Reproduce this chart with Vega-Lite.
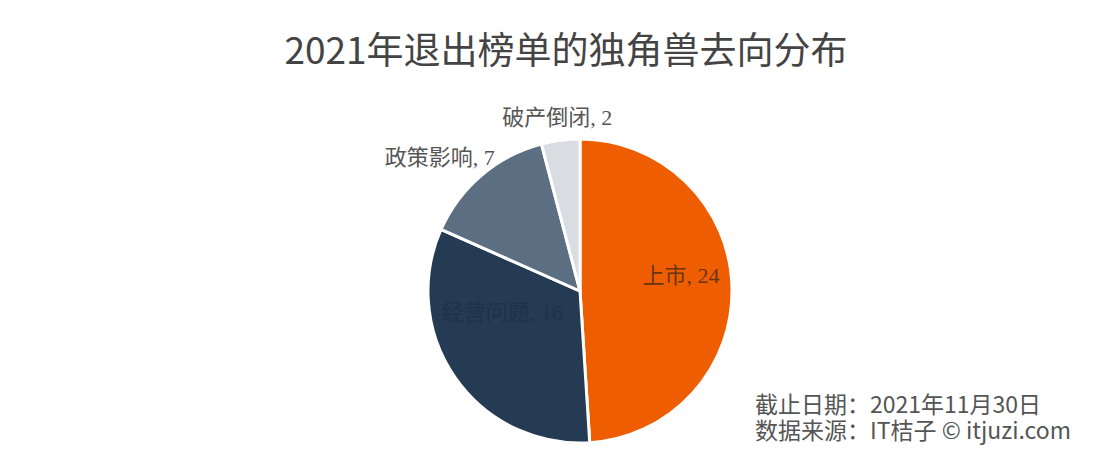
{
  "$schema": "https://vega.github.io/schema/vega-lite/v6.json",
  "background": "white",
  "padding": {"top": 34, "left": 0, "right": 0, "bottom": 0},
  "title": {
    "text": "2021年退出榜单的独角兽去向分布",
    "font": "Noto Sans CJK SC",
    "fontSize": 37,
    "fontWeight": "normal",
    "color": "#444444",
    "anchor": "middle",
    "dx": -14,
    "dy": 4,
    "offset": 10
  },
  "data": {
    "values": [
      {"category": "上市", "value": 24, "label": "上市, 24"},
      {"category": "经营问题", "value": 16, "label": "经营问题, 16"},
      {"category": "政策影响", "value": 7, "label": "政策影响, 7"},
      {"category": "破产倒闭", "value": 2, "label": "破产倒闭, 2"}
    ]
  },
  "vconcat": [
    {
      "width": 1160,
      "height": 426,
      "view": {"stroke": null},
      "title": {
        "text": ["截止日期：2021年11月30日", "数据来源：IT桔子 © itjuzi.com"],
        "orient": "bottom",
        "anchor": "end",
        "font": "Noto Sans CJK SC",
        "fontSize": 23,
        "fontWeight": "normal",
        "color": "#555555",
        "lineHeight": 26,
        "align": "left",
        "dx": -405,
        "dy": -109,
        "offset": 0
      },
      "encoding": {
        "theta": {"field": "value", "type": "quantitative", "stack": true},
        "order": {"field": "value", "type": "quantitative", "sort": "descending"},
        "color": {
          "field": "category",
          "type": "nominal",
          "scale": {
            "domain": ["上市", "经营问题", "政策影响", "破产倒闭"],
            "range": ["#EE5E00", "#243B53", "#5B6E82", "#D9DDE1"]
          },
          "legend": null
        }
      },
      "layer": [
        {
          "mark": {"type": "arc", "outerRadius": 152, "stroke": "white", "strokeWidth": 3}
        },
        {
          "mark": {"type": "text", "radius": 106, "font": "Liberation Serif, Noto Sans CJK SC", "fontSize": 22, "dx": -5, "dy": -12},
          "encoding": {
            "text": {"condition": {"test": "datum.category === '上市'", "field": "label"}, "value": ""},
            "color": {"value": "#6b3410"}
          }
        },
        {
          "mark": {"type": "text", "radius": 90, "font": "Liberation Serif, Noto Sans CJK SC", "fontSize": 22, "dx": -4, "dy": -29},
          "encoding": {
            "text": {"condition": {"test": "datum.category === '经营问题'", "field": "label"}, "value": ""},
            "color": {"value": "#1f3247"}
          }
        },
        {
          "mark": {"type": "text", "radius": 190, "font": "Liberation Serif, Noto Sans CJK SC", "fontSize": 22, "dx": -17, "dy": 12},
          "encoding": {
            "text": {"condition": {"test": "datum.category === '政策影响'", "field": "label"}, "value": ""},
            "color": {"value": "#555555"}
          }
        },
        {
          "mark": {"type": "text", "radius": 178, "font": "Liberation Serif, Noto Sans CJK SC", "fontSize": 22, "dy": 4},
          "encoding": {
            "text": {"condition": {"test": "datum.category === '破产倒闭'", "field": "label"}, "value": ""},
            "color": {"value": "#555555"}
          }
        }
      ]
    }
  ]
}
